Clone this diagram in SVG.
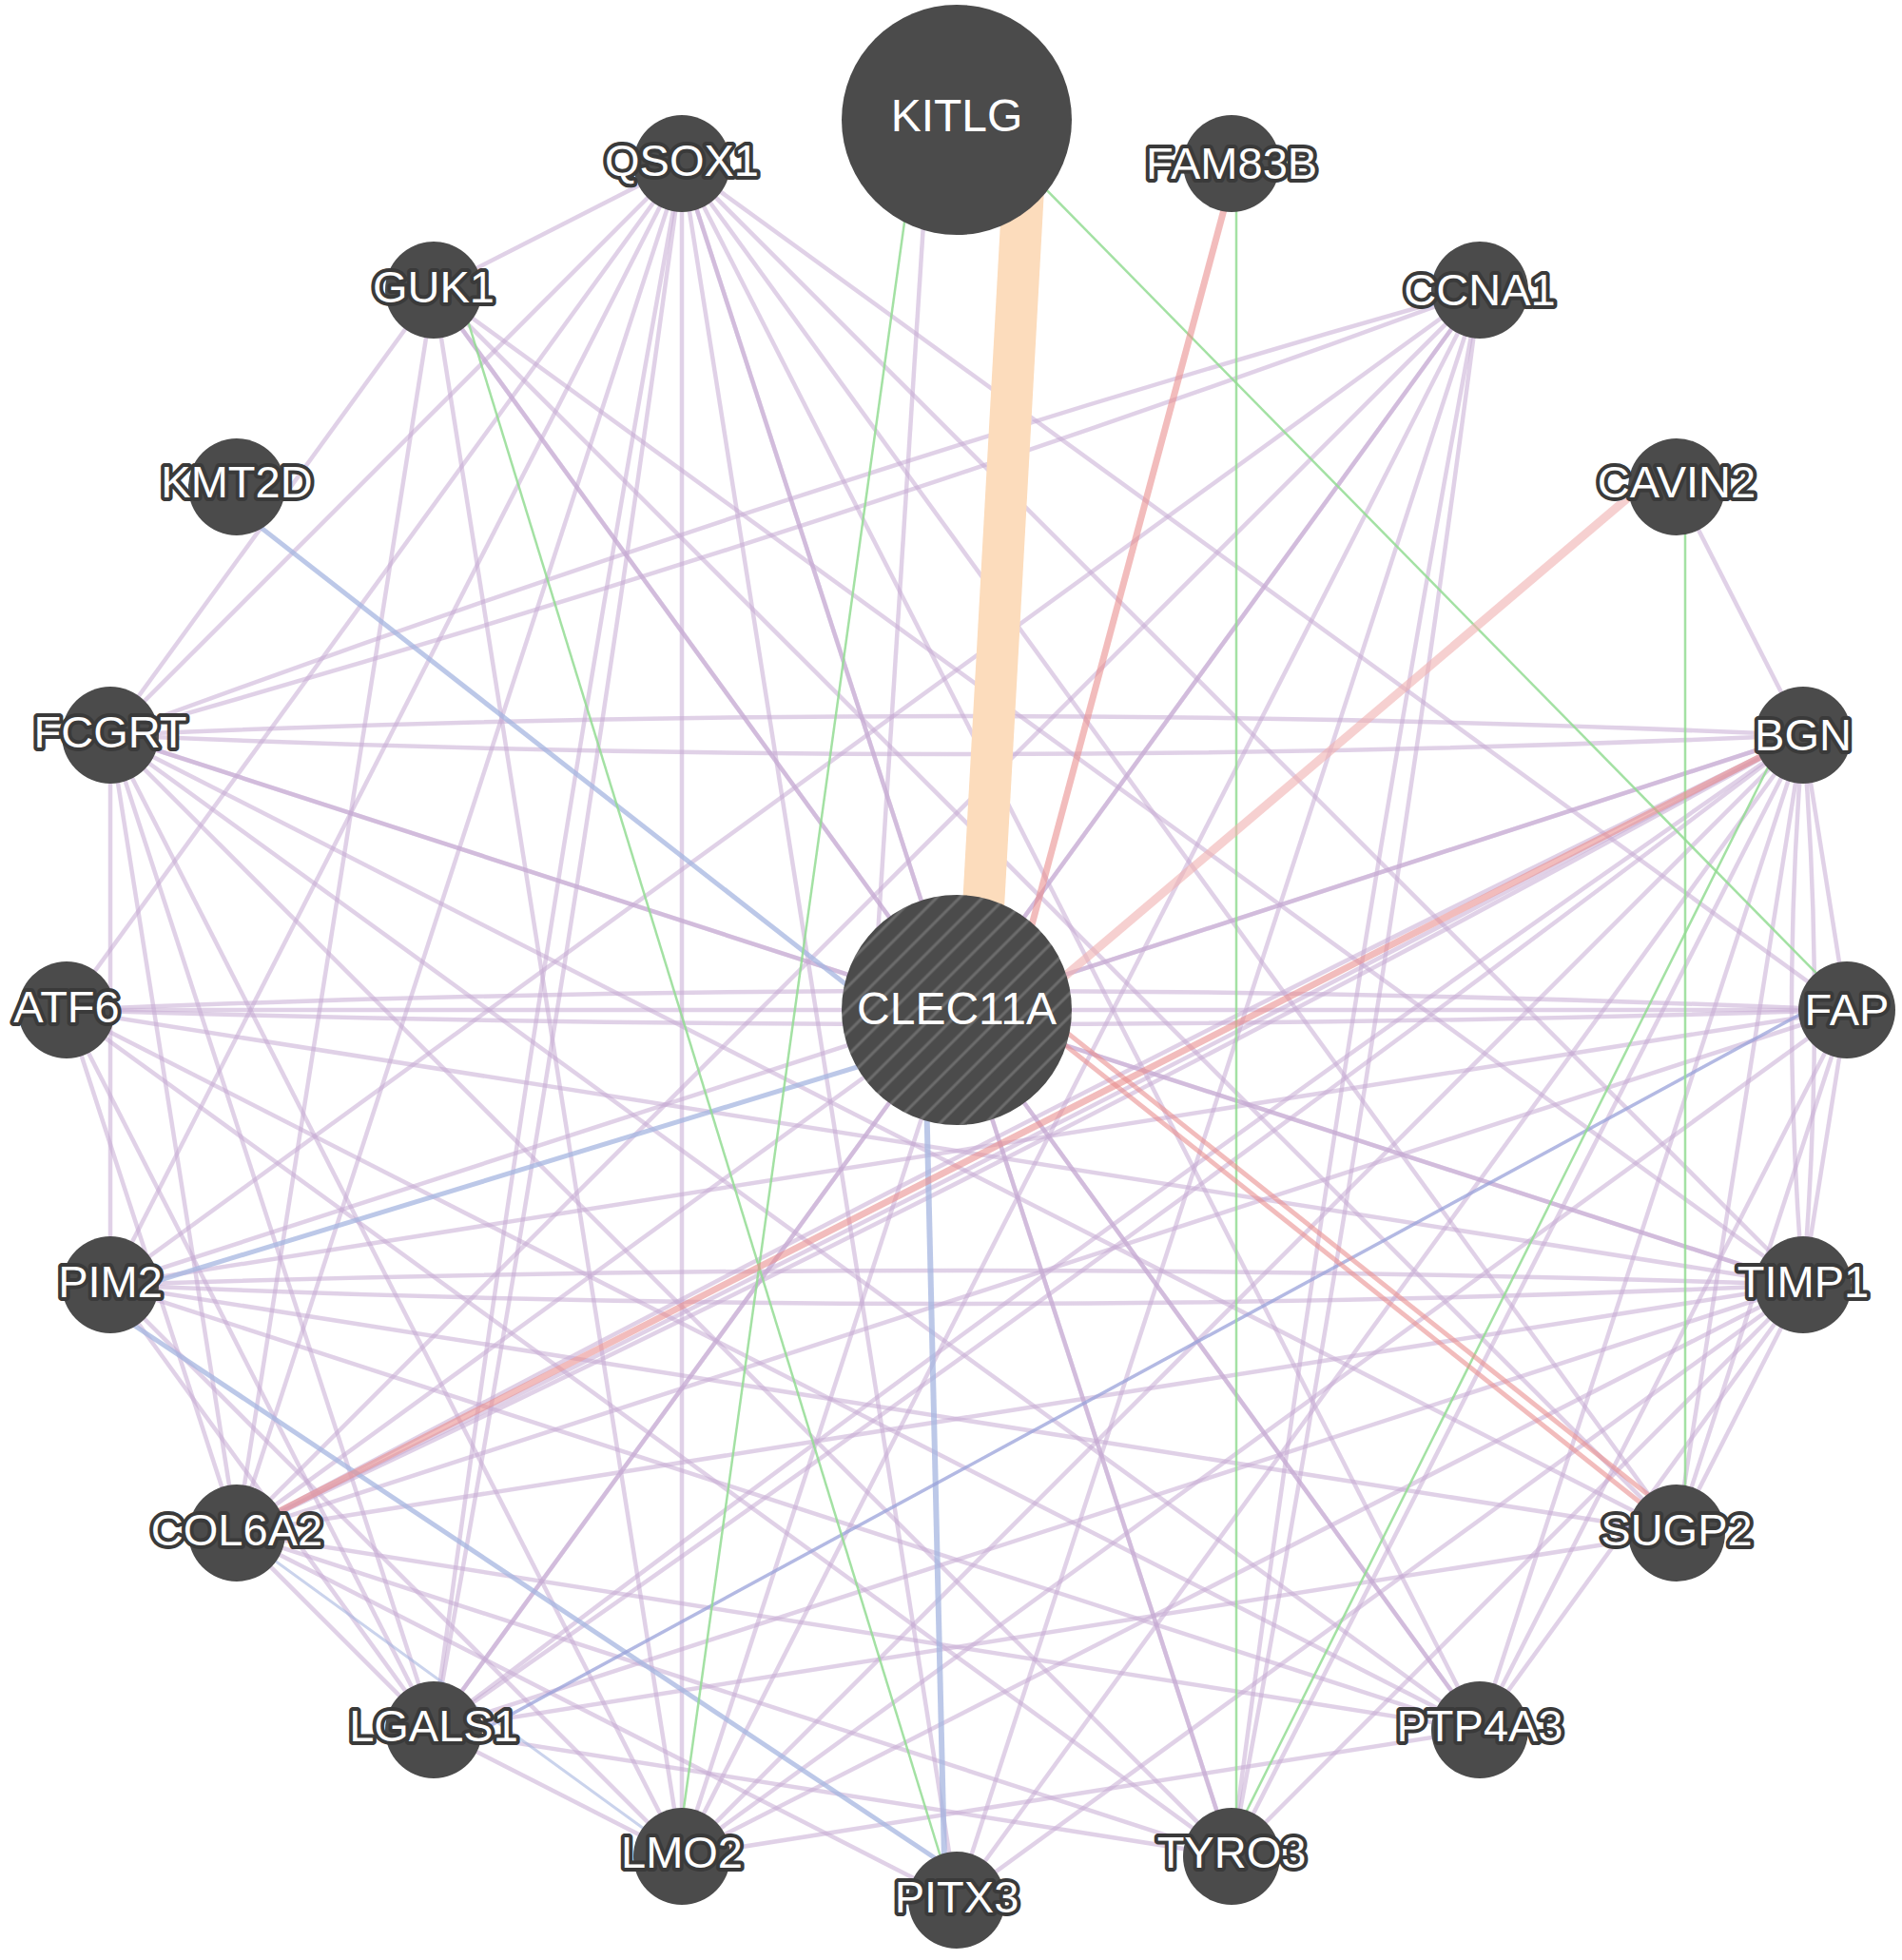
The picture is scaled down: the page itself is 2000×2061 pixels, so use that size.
<svg xmlns="http://www.w3.org/2000/svg" width="2000" height="2061" viewBox="0 0 2000 2061">
<defs>
<style>
.p{stroke:#c7abd3;stroke-opacity:0.55;stroke-width:4.5;fill:none}
.b{stroke:#a6b6e0;stroke-opacity:0.75;stroke-width:5;fill:none}
.g{stroke:#93dc93;stroke-opacity:0.85;stroke-width:2.5;fill:none}
.r{stroke:#e99090;stroke-opacity:0.6;stroke-width:7;fill:none}
.o{stroke:#fcdcbc;stroke-width:44;fill:none}
.n{fill:#4b4b4b}
.lb{font-family:"Liberation Sans",Arial,sans-serif;font-size:47px;fill:#fff;stroke:#3a3a3a;stroke-width:8;stroke-linejoin:round;paint-order:stroke;text-anchor:middle}
.big{font-family:"Liberation Sans",Arial,sans-serif;font-size:48px;fill:#fff;text-anchor:middle}
</style>
<pattern id="hatch" patternUnits="userSpaceOnUse" width="17" height="17" patternTransform="rotate(45)">
<rect width="17" height="17" fill="#4b4b4b"/>
<line x1="4" y1="0" x2="4" y2="17" stroke="#6c6c6c" stroke-width="3"/>
</pattern>
</defs>
<rect width="2000" height="2061" fill="#fff"/>
<g id="connectors">
<line class="p" x1="717" y1="172" x2="456" y2="305"/>
<line class="p" x1="717" y1="172" x2="116" y2="773"/>
<line class="p" x1="717" y1="172" x2="70" y2="1062"/>
<line class="p" x1="717" y1="172" x2="116" y2="1351"/>
<line class="p" x1="717" y1="172" x2="249" y2="1612"/>
<line class="p" x1="717" y1="172" x2="717" y2="1952"/>
<line class="p" x1="717" y1="172" x2="1006" y2="1998"/>
<line class="p" x1="717" y1="172" x2="1295" y2="1952"/>
<line class="p" x1="717" y1="172" x2="1006" y2="1062"/>
<line class="p" x1="717" y1="172" x2="1896" y2="1351"/>
<line class="p" x1="717" y1="172" x2="1942" y2="1062"/>
<line class="p" x1="717" y1="172" x2="1763" y2="1612"/>
<line class="p" x1="717" y1="172" x2="1556" y2="1819"/>
<line class="p" x1="456" y1="305" x2="116" y2="773"/>
<line class="p" x1="456" y1="305" x2="1896" y2="1351"/>
<line class="p" x1="456" y1="305" x2="1763" y2="1612"/>
<line class="p" x1="456" y1="305" x2="1556" y2="1819"/>
<line class="p" x1="456" y1="305" x2="717" y2="1952"/>
<line class="p" x1="456" y1="305" x2="249" y2="1612"/>
<line class="p" x1="456" y1="305" x2="1006" y2="1062"/>
<line class="p" x1="116" y1="773" x2="1006" y2="1062"/>
<line class="p" x1="116" y1="773" x2="1896" y2="1351"/>
<line class="p" x1="116" y1="773" x2="1763" y2="1612"/>
<line class="p" x1="116" y1="773" x2="1556" y2="1819"/>
<line class="p" x1="116" y1="773" x2="1295" y2="1952"/>
<line class="p" x1="116" y1="773" x2="717" y2="1952"/>
<line class="p" x1="116" y1="773" x2="456" y2="1819"/>
<line class="p" x1="116" y1="773" x2="116" y2="1351"/>
<line class="p" x1="116" y1="773" x2="249" y2="1612"/>
<line class="p" x1="70" y1="1062" x2="1006" y2="1062"/>
<line class="p" x1="70" y1="1062" x2="456" y2="1819"/>
<line class="p" x1="70" y1="1062" x2="1896" y2="1351"/>
<line class="p" x1="70" y1="1062" x2="1295" y2="1952"/>
<line class="p" x1="70" y1="1062" x2="249" y2="1612"/>
<line class="p" x1="70" y1="1062" x2="1556" y2="1819"/>
<line class="p" x1="116" y1="1351" x2="1896" y2="773"/>
<line class="p" x1="116" y1="1351" x2="1556" y2="305"/>
<line class="p" x1="116" y1="1351" x2="456" y2="1819"/>
<line class="p" x1="116" y1="1351" x2="1942" y2="1062"/>
<line class="p" x1="116" y1="1351" x2="1556" y2="1819"/>
<line class="p" x1="116" y1="1351" x2="1763" y2="1612"/>
<line class="p" x1="116" y1="1351" x2="717" y2="1952"/>
<line class="p" x1="249" y1="1612" x2="1942" y2="1062"/>
<line class="p" x1="249" y1="1612" x2="1896" y2="1351"/>
<line class="p" x1="249" y1="1612" x2="456" y2="1819"/>
<line class="p" x1="249" y1="1612" x2="1006" y2="1062"/>
<line class="p" x1="249" y1="1612" x2="1556" y2="305"/>
<line class="p" x1="249" y1="1612" x2="1295" y2="1952"/>
<line class="p" x1="249" y1="1612" x2="1006" y2="1998"/>
<line class="p" x1="249" y1="1612" x2="1556" y2="1819"/>
<line class="p" x1="456" y1="1819" x2="1896" y2="1351"/>
<line class="p" x1="456" y1="1819" x2="1556" y2="305"/>
<line class="p" x1="456" y1="1819" x2="1006" y2="1062"/>
<line class="p" x1="456" y1="1819" x2="717" y2="1952"/>
<line class="p" x1="456" y1="1819" x2="1295" y2="1952"/>
<line class="p" x1="456" y1="1819" x2="1763" y2="1612"/>
<line class="p" x1="717" y1="1952" x2="1896" y2="773"/>
<line class="p" x1="717" y1="1952" x2="1556" y2="305"/>
<line class="p" x1="717" y1="1952" x2="1896" y2="1351"/>
<line class="p" x1="717" y1="1952" x2="1942" y2="1062"/>
<line class="p" x1="717" y1="1952" x2="1006" y2="1062"/>
<line class="p" x1="717" y1="1952" x2="1556" y2="1819"/>
<line class="p" x1="1006" y1="1998" x2="1556" y2="305"/>
<line class="p" x1="1006" y1="1998" x2="1896" y2="1351"/>
<line class="p" x1="1006" y1="1998" x2="1896" y2="773"/>
<line class="p" x1="1295" y1="1952" x2="1896" y2="773"/>
<line class="p" x1="1295" y1="1952" x2="1896" y2="1351"/>
<line class="p" x1="1295" y1="1952" x2="1006" y2="1062"/>
<line class="p" x1="1556" y1="1819" x2="1896" y2="773"/>
<line class="p" x1="1556" y1="1819" x2="1942" y2="1062"/>
<line class="p" x1="1556" y1="1819" x2="1896" y2="1351"/>
<line class="p" x1="1556" y1="1819" x2="1006" y2="1062"/>
<line class="p" x1="1763" y1="1612" x2="1896" y2="773"/>
<line class="p" x1="1763" y1="1612" x2="1896" y2="1351"/>
<line class="p" x1="1763" y1="1612" x2="1942" y2="1062"/>
<line class="p" x1="1896" y1="1351" x2="1942" y2="1062"/>
<line class="p" x1="1896" y1="1351" x2="1006" y2="1062"/>
<line class="p" x1="1942" y1="1062" x2="1896" y2="773"/>
<line class="p" x1="1942" y1="1062" x2="1006" y2="1062"/>
<line class="p" x1="1896" y1="773" x2="1763" y2="512"/>
<line class="p" x1="1896" y1="773" x2="1006" y2="1062"/>
<line class="p" x1="1556" y1="305" x2="1006" y2="1062"/>
<line class="p" x1="978" y1="126" x2="918" y2="1062"/>
<path class="p" d="M116,773 Q1006,733 1896,773"/>
<path class="p" d="M116,773 Q1006,813 1896,773"/>
<path class="p" d="M70,1062 Q1006,1022 1942,1062"/>
<path class="p" d="M70,1062 Q1006,1092 1942,1062"/>
<path class="p" d="M116,1351 Q1006,1321 1896,1351"/>
<path class="p" d="M116,1351 Q1006,1391 1896,1351"/>
<path class="p" d="M116,773 Q845,568 1556,305"/>
<path class="p" d="M116,773 Q827,510 1556,305"/>
<path class="p" d="M249,1612 Q1080,1207 1896,773"/>
<path class="p" d="M249,1612 Q1065,1178 1896,773"/>
<path class="p" d="M249,1612 Q1087,1221 1896,773"/>
<path class="p" d="M456,1819 Q1188,1312 1896,773"/>
<path class="p" d="M456,1819 Q1164,1280 1896,773"/>
<path class="p" d="M1896,1351 Q1872,1062 1896,773"/>
<path class="p" d="M1896,1351 Q1920,1062 1896,773"/>
<path class="p" d="M1556,305 Q1449,1132 1295,1952"/>
<path class="p" d="M1556,305 Q1402,1125 1295,1952"/>
<path class="p" d="M456,1819 Q606,999 717,172"/>
<path class="p" d="M456,1819 Q566,992 717,172"/>
<line class="b" x1="249" y1="535" x2="1006" y2="1126"/>
<line class="b" x1="116" y1="1362" x2="1006" y2="1090"/>
<line class="b" x1="116" y1="1377" x2="1006" y2="1969"/>
<line class="b" x1="972" y1="1062" x2="994" y2="1998" style="stroke-width:6"/>
<line class="b" x1="249" y1="1612" x2="717" y2="1952" style="stroke-width:3;stroke-opacity:0.6"/>
<line class="b" x1="1942" y1="1040" x2="456" y2="1847" style="stroke:#9aa2da;stroke-width:3.5"/>
<line class="g" x1="1030" y1="128" x2="1942" y2="1056"/>
<line class="g" x1="966" y1="126" x2="712" y2="1952"/>
<line class="g" x1="482" y1="305" x2="1003" y2="1998"/>
<line class="g" x1="1300" y1="172" x2="1300" y2="1952"/>
<line class="g" x1="1772" y1="512" x2="1772" y2="1612"/>
<line class="g" x1="1876" y1="773" x2="1287" y2="1952"/>
<line class="r" x1="249" y1="1612" x2="1896" y2="773"/>
<line class="r" x1="1300" y1="172" x2="1061" y2="1062"/>
<line class="r" x1="1763" y1="480" x2="1006" y2="1123" style="stroke:#f0b0b0;stroke-width:9"/>
<line class="r" x1="1009" y1="996" x2="1766" y2="1598" style="stroke-width:5"/>
<line class="r" x1="1003" y1="1006" x2="1760" y2="1608" style="stroke-width:5"/>
<line class="o" x1="1080" y1="126" x2="1028" y2="1062"/>
</g>
<g id="node-KITLG"><circle class="n" cx="1006" cy="126" r="121"/><text class="big" x="1006" y="138">KITLG</text></g>
<g id="node-CLEC11A"><circle cx="1006" cy="1062" r="121" fill="url(#hatch)"/><text class="big" x="1006" y="1077">CLEC11A</text></g>
<g id="node-FAM83B"><circle class="n" cx="1295" cy="172" r="51"/><text class="lb" x="1295" y="188">FAM83B</text></g>
<g id="node-CCNA1"><circle class="n" cx="1556" cy="305" r="51"/><text class="lb" x="1556" y="321">CCNA1</text></g>
<g id="node-CAVIN2"><circle class="n" cx="1763" cy="512" r="51"/><text class="lb" x="1763" y="523">CAVIN2</text></g>
<g id="node-BGN"><circle class="n" cx="1896" cy="773" r="51"/><text class="lb" x="1896" y="789">BGN</text></g>
<g id="node-FAP"><circle class="n" cx="1942" cy="1062" r="51"/><text class="lb" x="1942" y="1078">FAP</text></g>
<g id="node-TIMP1"><circle class="n" cx="1896" cy="1351" r="51"/><text class="lb" x="1896" y="1364">TIMP1</text></g>
<g id="node-SUGP2"><circle class="n" cx="1763" cy="1612" r="51"/><text class="lb" x="1763" y="1625">SUGP2</text></g>
<g id="node-PTP4A3"><circle class="n" cx="1556" cy="1819" r="51"/><text class="lb" x="1556" y="1831">PTP4A3</text></g>
<g id="node-TYRO3"><circle class="n" cx="1295" cy="1952" r="51"/><text class="lb" x="1295" y="1964">TYRO3</text></g>
<g id="node-PITX3"><circle class="n" cx="1006" cy="1998" r="51"/><text class="lb" x="1006" y="2011">PITX3</text></g>
<g id="node-LMO2"><circle class="n" cx="717" cy="1952" r="51"/><text class="lb" x="717" y="1964">LMO2</text></g>
<g id="node-LGALS1"><circle class="n" cx="456" cy="1819" r="51"/><text class="lb" x="456" y="1831">LGALS1</text></g>
<g id="node-COL6A2"><circle class="n" cx="249" cy="1612" r="51"/><text class="lb" x="249" y="1625">COL6A2</text></g>
<g id="node-PIM2"><circle class="n" cx="116" cy="1351" r="51"/><text class="lb" x="116" y="1364">PIM2</text></g>
<g id="node-ATF6"><circle class="n" cx="70" cy="1062" r="51"/><text class="lb" x="70" y="1075">ATF6</text></g>
<g id="node-FCGRT"><circle class="n" cx="116" cy="773" r="51"/><text class="lb" x="116" y="786">FCGRT</text></g>
<g id="node-KMT2D"><circle class="n" cx="249" cy="512" r="51"/><text class="lb" x="249" y="523">KMT2D</text></g>
<g id="node-GUK1"><circle class="n" cx="456" cy="305" r="51"/><text class="lb" x="456" y="318">GUK1</text></g>
<g id="node-QSOX1"><circle class="n" cx="717" cy="172" r="51"/><text class="lb" x="717" y="185">QSOX1</text></g>
</svg>
